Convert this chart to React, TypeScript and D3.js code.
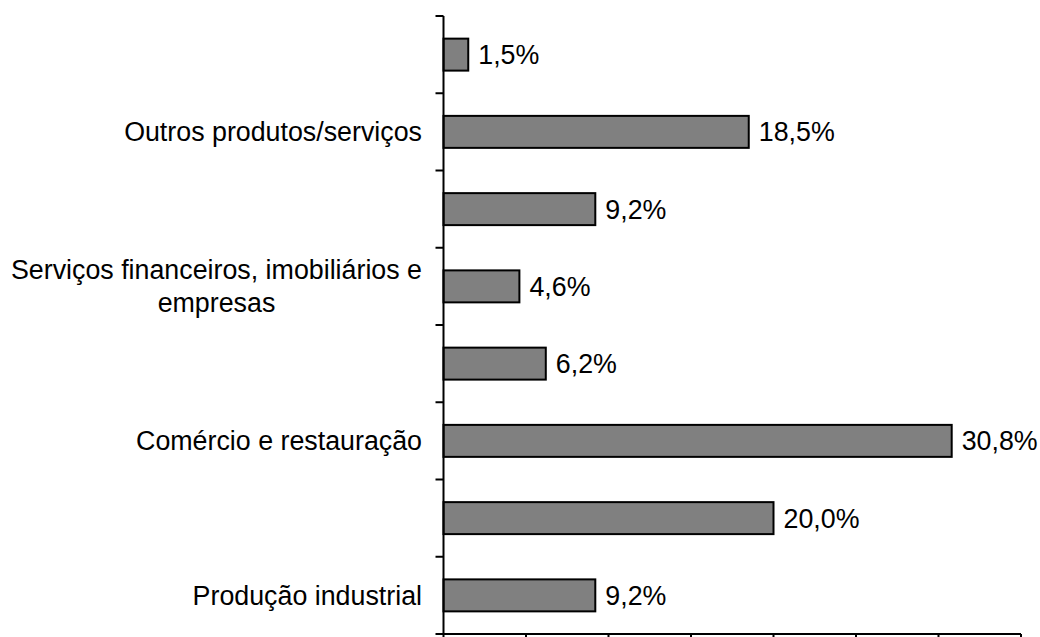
import React, { useEffect, useRef } from "react";
import * as d3 from "d3";

// Categories listed top to bottom (hidden labels are empty, as in the reference)
const categories: string[][] = [
  [""],
  ["Outros produtos/serviços"],
  [""],
  ["Serviços financeiros, imobiliários e", "empresas"],
  [""],
  ["Comércio e restauração"],
  [""],
  ["Produção industrial"],
];
const values: number[] = [1.5, 18.5, 9.2, 4.6, 6.2, 30.8, 20.0, 9.2];
const valueLabels: string[] = ["1,5%", "18,5%", "9,2%", "4,6%", "6,2%", "30,8%", "20,0%", "9,2%"];
const xTicks: number[] = [0, 5, 10, 15, 20, 25, 30, 35];

const W = 1040;
const H = 637;
const FONT = "'Liberation Sans', Arial, Helvetica, sans-serif";
const FS = 26.8;

export default function App() {
  const ref = useRef<SVGSVGElement | null>(null);

  useEffect(() => {
    const svg = d3.select(ref.current);
    svg.selectAll("*").remove();

    const left = 443.5;
    const right = 1021;
    const top = 16;
    const bottom = 634;

    const x = d3.scaleLinear().domain([0, 35]).range([left, right]);
    const ids = categories.map((_, i) => String(i));
    const y = d3
      .scaleBand<string>()
      .domain(ids)
      .range([top, bottom])
      .paddingInner(0.586)
      .paddingOuter(0.293);

    const g = svg.append("g");

    // bars
    g.selectAll("rect.bar")
      .data(values)
      .enter()
      .append("rect")
      .attr("class", "bar")
      .attr("x", x(0))
      .attr("y", (_, i) => y(ids[i]) as number)
      .attr("width", (d) => x(d) - x(0))
      .attr("height", y.bandwidth())
      .attr("fill", "#808080")
      .attr("stroke", "#000")
      .attr("stroke-width", 2);

    // value labels
    g.selectAll("text.val")
      .data(values)
      .enter()
      .append("text")
      .attr("class", "val")
      .attr("x", (d) => x(d) + 10)
      .attr("y", (_, i) => (y(ids[i]) as number) + y.bandwidth() / 2)
      .attr("dy", "0.35em")
      .attr("font-family", FONT)
      .attr("font-size", FS)
      .attr("fill", "#000")
      .text((_, i) => valueLabels[i]);

    // y axis line
    g.append("line")
      .attr("x1", left)
      .attr("x2", left)
      .attr("y1", top)
      .attr("y2", bottom)
      .attr("stroke", "#000")
      .attr("stroke-width", 2);

    // y ticks at category boundaries
    const step = y.step();
    const bounds = d3.range(categories.length + 1).map((i) => top + i * step);
    g.selectAll("line.ytick")
      .data(bounds)
      .enter()
      .append("line")
      .attr("class", "ytick")
      .attr("x1", left - 8)
      .attr("x2", left)
      .attr("y1", (d) => d)
      .attr("y2", (d) => d)
      .attr("stroke", "#000")
      .attr("stroke-width", 2);

    // x axis line
    g.append("line")
      .attr("x1", left)
      .attr("x2", right)
      .attr("y1", bottom)
      .attr("y2", bottom)
      .attr("stroke", "#000")
      .attr("stroke-width", 2);

    g.selectAll("line.xtick")
      .data(xTicks)
      .enter()
      .append("line")
      .attr("class", "xtick")
      .attr("x1", (d) => x(d))
      .attr("x2", (d) => x(d))
      .attr("y1", bottom)
      .attr("y2", bottom + 8)
      .attr("stroke", "#000")
      .attr("stroke-width", 2);

    // category labels, centred lines, block right-aligned
    const labelRight = 422;
    const lineH = 33;
    categories.forEach((lines, i) => {
      if (lines.every((l) => l === "")) return;
      const cy = (y(ids[i]) as number) + y.bandwidth() / 2;
      const t = g
        .append("text")
        .attr("font-family", FONT)
        .attr("font-size", FS)
        .attr("fill", "#000")
        .attr("text-anchor", "middle");
      const startY = cy - ((lines.length - 1) * lineH) / 2;
      lines.forEach((l, j) => {
        t.append("tspan")
          .attr("x", 0)
          .attr("y", startY + j * lineH)
          .attr("dy", "0.35em")
          .text(l);
      });
      const node = t.node() as SVGTextElement;
      const bb = node.getBBox();
      const shift = labelRight - (bb.x + bb.width);
      t.attr("transform", `translate(${shift},0)`);
    });
  }, []);

  return (
    <svg
      ref={ref}
      width={W}
      height={H}
      style={{ position: "fixed", left: 0, top: 0, background: "#fff", display: "block" }}
    />
  );
}
